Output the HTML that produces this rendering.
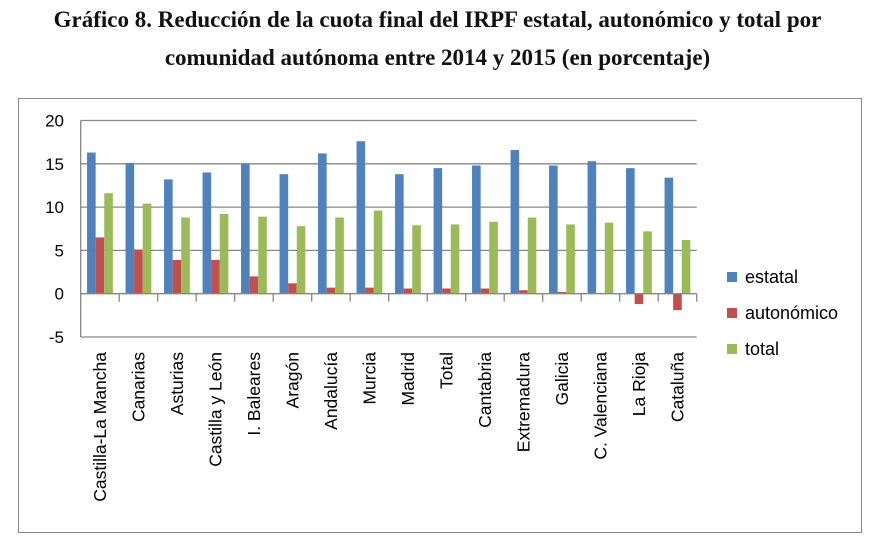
<!DOCTYPE html>
<html><head><meta charset="utf-8"><style>
body{margin:0;background:#fff;width:875px;height:543px;overflow:hidden}
.t{position:absolute;left:0;width:875px;text-align:center;font:bold 23px "Liberation Serif",serif;color:#111}
</style></head><body>
<div class="t" style="top:7px">Gráfico 8. Reducción de la cuota final del IRPF estatal, autonómico y total por</div>
<div class="t" style="top:45px">comunidad autónoma entre 2014 y 2015 (en porcentaje)</div>
<svg id="c" width="875" height="543" style="position:absolute;left:0;top:0"></svg>
<script>
const categories=["Castilla-La Mancha","Canarias","Asturias","Castilla y León","I. Baleares","Aragón","Andalucía","Murcia","Madrid","Total","Cantabria","Extremadura","Galicia","C. Valenciana","La Rioja","Cataluña"];
const estatal=[16.3,15.1,13.2,14.0,15.0,13.8,16.2,17.6,13.8,14.5,14.8,16.6,14.8,15.3,14.5,13.4];
const autonomico=[6.5,5.1,3.9,3.9,2.0,1.2,0.7,0.7,0.6,0.6,0.6,0.4,0.2,0.05,-1.2,-1.9];
const total=[11.6,10.4,8.8,9.2,8.9,7.8,8.8,9.6,7.9,8.0,8.3,8.8,8.0,8.2,7.2,6.2];
const ticks=[20,15,10,5,0,-5];
const seriesNames=["estatal","autonómico","total"];
const colors=["#4f81bd","#c0504d","#9bbb59"];
const NS="http://www.w3.org/2000/svg",svg=document.getElementById('c');
function el(t,a,p){const e=document.createElementNS(NS,t);for(const k in a)e.setAttribute(k,a[k]);(p||svg).appendChild(e);return e;}
const L=80.7,R=696.7,y0=293.7,ppu=8.66;
const y=v=>y0-v*ppu;
const bw=(R-L)/categories.length;
const x=i=>L+i*bw;
const frame=el('rect',{x:18.5,y:98.5,width:843,height:434,fill:'none',stroke:'#888','stroke-width':1});


ticks.forEach(t=>{
 if(t!==0){const g=el('line',{x1:L,x2:R,y1:y(t),y2:y(t),stroke:'#878787','stroke-width':1.3});
 
 }
 const tx=el('text',{x:64,y:y(t)+6,'text-anchor':'end','font-family':'Liberation Sans, sans-serif','font-size':17,fill:'#000'});
 tx.textContent=t;
 
 
});
const ya=el('line',{x1:L,x2:L,y1:y(20),y2:y(-5),stroke:'#878787','stroke-width':1.3});


const series=[estatal,autonomico,total];
const w=8.6;
categories.forEach((c,i)=>{
 const gx=x(i)+(bw-3*w)/2;
 series.forEach((s,k)=>{
  const v=s[i];
  const r=el('rect',{x:gx+k*w,y:Math.min(y(v),y0),width:w,height:Math.abs(v*ppu),fill:colors[k]});
  
  
 });
 const tk=el('line',{x1:x(i+1),x2:x(i+1),y1:y0,y2:y0+8,stroke:'#878787','stroke-width':1.3});
 
 
 const cx=x(i)+bw/2+6;
 const lb=el('text',{x:cx,y:352,'text-anchor':'end','font-family':'Liberation Sans, sans-serif','font-size':17.5,fill:'#000',transform:`rotate(-90 ${cx} 352)`});
 lb.textContent=c;
 
 
});
const xa=el('line',{x1:L,x2:R,y1:y0,y2:y0,stroke:'#878787','stroke-width':1.3});


seriesNames.forEach((n,k)=>{
 const ly=277+k*36;
 const sq=el('rect',{x:727,y:ly-5,width:10,height:10,fill:colors[k]});
 
 
 const t=el('text',{x:745,y:ly+6,'font-family':'Liberation Sans, sans-serif','font-size':18,fill:'#000'});
 t.textContent=n;
 
 
});
</script>
</body></html>
